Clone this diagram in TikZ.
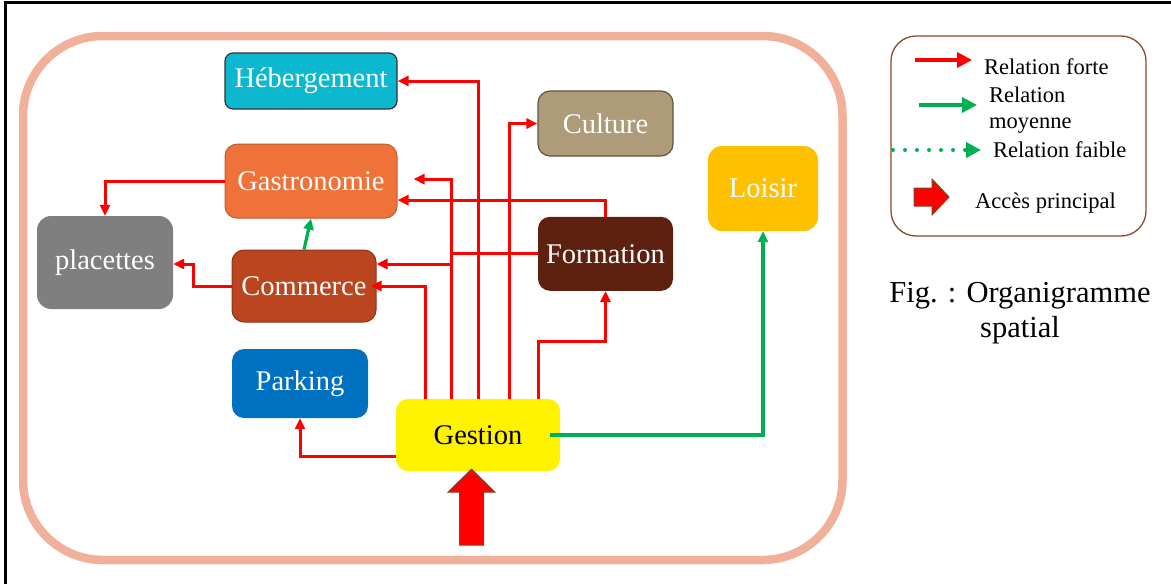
\documentclass[tikz,border=0pt]{standalone}
\usepackage{fontspec}
\setmainfont{Liberation Serif}
\usetikzlibrary{arrows.meta, positioning}
\definecolor{cadresaumon}{RGB}{240,176,154}
\definecolor{legbrun}{RGB}{140,72,42}
\definecolor{rouge}{RGB}{255,0,0}
\definecolor{vert}{RGB}{0,176,80}
\definecolor{hebcyan}{RGB}{11,184,208}
\definecolor{gastroorange}{RGB}{239,114,59}
\definecolor{commbrun}{RGB}{186,69,30}
\definecolor{cultbeige}{RGB}{173,155,121}
\definecolor{formbrun}{RGB}{94,33,16}
\definecolor{loisirjaune}{RGB}{255,192,0}
\definecolor{parkbleu}{RGB}{0,112,192}
\definecolor{placgris}{RGB}{127,127,127}
\tikzset{
  zone/.style={rectangle, rounded corners=12pt, align=center, draw=none,
    text=white, inner sep=2pt, font=\fontsize{28.5}{32}\selectfont},
  fortarrow/.style={-{Triangle[length=11pt, width=10pt]}, line width=3pt, color=rouge},
  fortline/.style={line width=3pt, color=rouge},
  moyarrow/.style={-{Triangle[length=11pt, width=10pt]}, line width=3.2pt, color=vert},
  legtext/.style={anchor=base west, inner sep=0pt, font=\fontsize{22.5}{26}\selectfont},
  acces/.style={fill=rouge, draw=legbrun!90!black, line width=1pt},
}

\begin{document}
\begin{tikzpicture}[x=1pt, y=-1pt]
  \useasboundingbox (0,0) rectangle (1171,584);
  % cadre de la capture
  \draw[line width=2.5pt] (5.5,584) -- (5.5,2.7) -- (1171,2.7);
  \draw[cadresaumon, line width=8.5pt, rounded corners=80pt] (23,36) rectangle (842.5,560);

  % espaces
  \node[zone, fill=hebcyan, draw=black!80, line width=1.2pt, rounded corners=8pt,
    minimum width=172pt, minimum height=56pt] (heberg) at (311,81) {Hébergement};
  \node[zone, fill=gastroorange, draw=gastroorange!80!black, line width=1pt,
    minimum width=172pt, minimum height=74pt, below=34pt of heberg] (gastro) {Gastronomie};
  \node[zone, fill=placgris, rounded corners=14pt,
    minimum width=136pt, minimum height=93pt] (placettes) at (105,262.5) {placettes};
  \node[zone, fill=commbrun, draw=commbrun!75!black, line width=1pt,
    minimum width=144pt, minimum height=72pt] (commerce) at (304,286) {Commerce};
  \node[zone, fill=cultbeige, draw=cultbeige!55!black, line width=1.2pt,
    minimum width=135pt, minimum height=65pt] (culture) at (605.5,123.5) {Culture};
  \node[zone, fill=formbrun, minimum width=135pt, minimum height=74pt,
    below=60pt of culture] (formation) {Formation};
  \node[zone, fill=loisirjaune, rounded corners=14pt,
    minimum width=110pt, minimum height=85pt] (loisir) at (763,188.5) {Loisir};
  \node[zone, fill=parkbleu, minimum width=136pt, minimum height=69pt] (parking) at (300,383.5) {Parking};
  \node[zone, fill=yellow, text=black, minimum width=164pt, minimum height=72pt] (gestion) at (478,435) {Gestion};

  % relations fortes
  \coordinate (jonction) at ([xshift=-27pt]gestion.north);
  \draw[fortarrow] (gestion.north) |- (heberg.east);
  \draw[fortarrow] ([xshift=31pt]gestion.north) |- (culture.west);
  \draw[fortarrow, shorten >=16pt] (jonction) |- ([yshift=2pt]gastro.east);
  \draw[fortarrow] (formation.north) |- ([yshift=-19pt]gastro.east);
  \draw[fortline] (formation.west) -- (formation.west -| jonction);
  \draw[fortarrow] ([yshift=22pt]commerce.east -| jonction) -- ([yshift=22pt]commerce.east);
  \draw[fortarrow, shorten >=-6pt] ([xshift=-53pt]gestion.north) |- (commerce.east);
  \draw[fortarrow] ([xshift=60pt]gestion.north) -- ++(0,-57) -| (formation.south);
  \draw[fortarrow] ([yshift=-21pt]gestion.west) -| (parking.south);
  \draw[fortarrow] (gastro.west) -| (placettes.north);
  \draw[fortarrow] (commerce.west) -- ++(-38,0) |- ([yshift=-1.5pt]placettes.east);

  % relations moyennes
  \draw[moyarrow] (commerce.north) -- (gastro.south);
  \draw[moyarrow] ([xshift=-10pt]gestion.east) -| (loisir.south);

  % acces principal
  \coordinate (pointe) at ([xshift=-6.5pt, yshift=2pt]gestion.south);
  \filldraw[acces] (pointe) -- ++(23.5,23) -- ++(-11.5,0) -- ++(0,53) -- ++(-24,0)
    -- ++(0,-53) -- ++(-11.5,0) -- cycle;

  % legende
  \node[draw=legbrun, line width=1.3pt, rounded corners=25pt,
    minimum width=255pt, minimum height=200pt] (legende) at (1018.5,136) {};
  \coordinate (fa) at (915,60);   \coordinate (fb) at (972,60);
  \coordinate (ma) at (919,105);  \coordinate (mb) at (977,105);
  \coordinate (la) at (893,150);  \coordinate (lb) at (981,150);
  \draw[-{Triangle[length=15pt, width=15pt]}, line width=4pt, rouge] (fa) -- (fb);
  \draw[-{Triangle[length=15pt, width=15pt]}, line width=4pt, vert] (ma) -- (mb);
  \draw[-{Triangle[length=15pt, width=15pt]}, line width=4pt, vert,
    line cap=round, dash pattern=on 0pt off 12pt] (la) -- (lb);
  \filldraw[acces] (914,188) -- (932,188) -- (932,179) -- (949,197) -- (932,215)
    -- (932,206) -- (914,206) -- cycle;
  \node[legtext] (lforte) at (984,74) {Relation forte};
  \node[legtext, align=left] (lmoy) at (989,128) {Relation\\moyenne};
  \node[legtext] (lfaible) at (993,157) {Relation faible};
  \node[legtext] (lacces) at (975,208) {Accès principal};

  % titre
  \node[anchor=base, inner sep=0pt, align=center, font=\fontsize{30.5}{35}\selectfont]
    (titre) at (1020,337) {Fig. : Organigramme\\spatial};
\end{tikzpicture}
\end{document}
